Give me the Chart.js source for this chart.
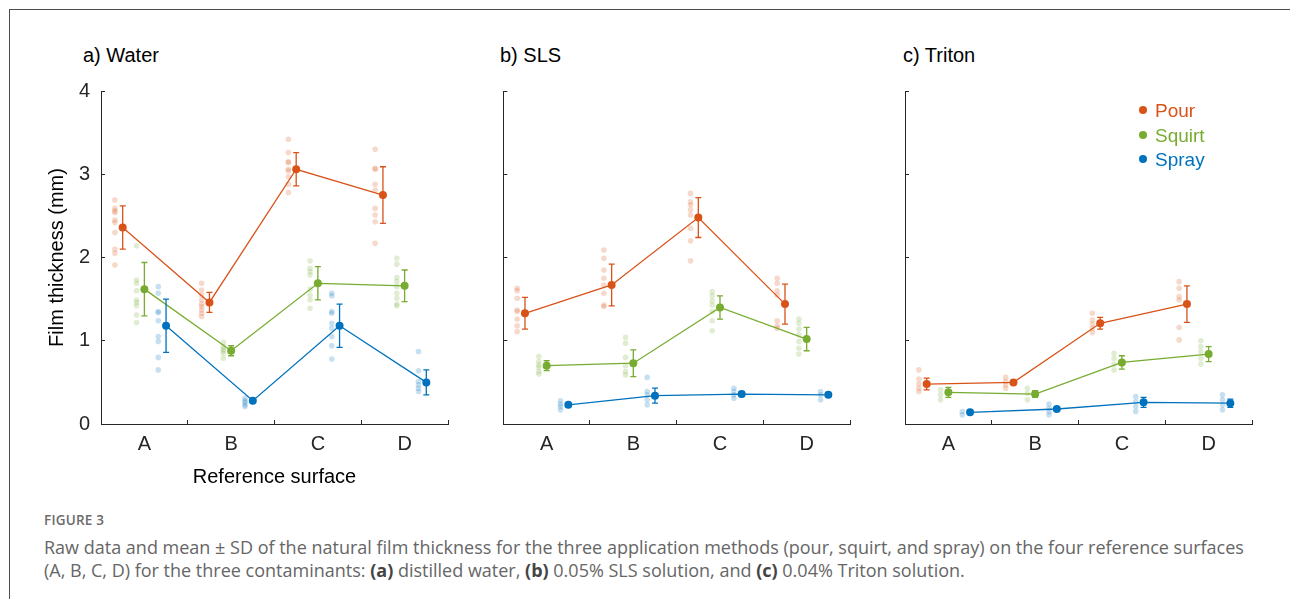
<!DOCTYPE html>
<html>
<head>
<meta charset="utf-8">
<script src="https://cdn.jsdelivr.net/npm/chart.js@4.4.0/dist/chart.umd.min.js"></script>
<style>
  body { margin: 0; width: 1290px; height: 599px; overflow: hidden; background: #fff; position: relative; font-family: "Liberation Sans", Arial, sans-serif; }
  .frame { position: absolute; left: 9px; top: 9px; width: 1400px; height: 700px; border-top: 1.5px solid #4d4d4d; border-left: 1.5px solid #4d4d4d; }
  canvas { position: absolute; top: 60px; }
  .ptitle { position: absolute; top: 43px; font-size: 20px; color: #000; line-height: 24px; }
  .legend { position: absolute; left: 1139px; top: 99px; font-size: 19px; line-height: 24.5px; }
  .legend div { white-space: nowrap; }
  .legend span { display: inline-block; width: 8px; height: 8px; border-radius: 50%; margin-right: 8px; vertical-align: 3px; }
  .fig { position: absolute; left: 44px; top: 511px; font-family: "Open Sans", sans-serif; font-size: 13.5px; font-weight: 600; color: #6b6b6b; letter-spacing: 0.2px; }
  .cap { position: absolute; left: 44px; top: 536px; font-family: "Open Sans", sans-serif; font-size: 18px; line-height: 23px; color: #666; white-space: nowrap; }
  .cap b { color: #444; font-weight: 700; }
</style>
</head>
<body>
<div class="frame"></div>
<div class="ptitle" style="left:83px">a) Water</div>
<div class="ptitle" style="left:500px">b) SLS</div>
<div class="ptitle" style="left:903px">c) Triton</div>
<canvas id="water" width="420" height="440" style="left:36px"></canvas>
<canvas id="sls" width="380" height="440" style="left:480px"></canvas>
<canvas id="triton" width="380" height="440" style="left:880px"></canvas>
<div class="legend">
  <div style="color:#D95319"><span style="background:#D95319"></span>Pour</div>
  <div style="color:#77AC30"><span style="background:#77AC30"></span>Squirt</div>
  <div style="color:#0072BD"><span style="background:#0072BD"></span>Spray</div>
</div>
<div class="fig">FIGURE 3</div>
<div class="cap">Raw data and mean ± SD of the natural film thickness for the three application methods (pour, squirt, and spray) on the four reference surfaces<br>(A, B, C, D) for the three contaminants: <b>(a)</b> distilled water, <b>(b)</b> 0.05% SLS solution, and <b>(c)</b> 0.04% Triton solution.</div>

<script>
const categories = ['A', 'B', 'C', 'D'];
const methods = ['Pour', 'Squirt', 'Spray'];
const yTicks = [0, 1, 2, 3, 4];

// a) Water
const waterPourMean = [2.36, 1.46, 3.06, 2.75];
const waterPourSD = [0.26, 0.12, 0.20, 0.34];
const waterPourRaw = [
  [2.69, 2.59, 2.56, 2.54, 2.45, 2.42, 2.30, 2.10, 2.05, 1.91],
  [1.69, 1.61, 1.55, 1.49, 1.44, 1.41, 1.37, 1.33, 1.29],
  [3.42, 3.26, 3.15, 3.14, 3.06, 3.04, 2.97, 2.88, 2.78],
  [3.30, 3.07, 3.06, 2.88, 2.81, 2.59, 2.51, 2.43, 2.17]
];
const waterSquirtMean = [1.62, 0.88, 1.69, 1.66];
const waterSquirtSD = [0.32, 0.06, 0.20, 0.19];
const waterSquirtRaw = [
  [2.14, 1.73, 1.69, 1.60, 1.49, 1.46, 1.42, 1.31, 1.22],
  [0.98, 0.93, 0.90, 0.88, 0.85, 0.79],
  [1.96, 1.87, 1.83, 1.79, 1.62, 1.55, 1.49, 1.39],
  [1.99, 1.92, 1.76, 1.71, 1.65, 1.57, 1.51, 1.44, 1.42]
];
const waterSprayMean = [1.18, 0.28, 1.18, 0.50];
const waterSpraySD = [0.32, 0.02, 0.26, 0.15];
const waterSprayRaw = [
  [1.65, 1.57, 1.35, 1.34, 1.24, 1.05, 0.99, 0.80, 0.65],
  [0.31, 0.28, 0.26, 0.23, 0.21],
  [1.57, 1.54, 1.35, 1.33, 1.21, 1.15, 1.05, 0.94, 0.78],
  [0.87, 0.64, 0.51, 0.47, 0.43, 0.39]
];

// b) SLS
const slsPourMean = [1.33, 1.67, 2.48, 1.44];
const slsPourSD = [0.19, 0.25, 0.24, 0.24];
const slsPourRaw = [
  [1.63, 1.60, 1.51, 1.37, 1.35, 1.26, 1.18, 1.11],
  [2.09, 1.99, 1.85, 1.75, 1.67, 1.57, 1.43, 1.41],
  [2.77, 2.67, 2.63, 2.57, 2.51, 2.35, 2.20, 1.96],
  [1.75, 1.69, 1.60, 1.55, 1.24, 1.18, 1.15]
];
const slsSquirtMean = [0.70, 0.73, 1.40, 1.02];
const slsSquirtSD = [0.06, 0.16, 0.14, 0.14];
const slsSquirtRaw = [
  [0.81, 0.75, 0.71, 0.68, 0.63, 0.60],
  [1.04, 0.97, 0.80, 0.70, 0.63, 0.59],
  [1.59, 1.54, 1.48, 1.43, 1.35, 1.24, 1.12],
  [1.26, 1.21, 1.14, 1.07, 0.99, 0.91, 0.84]
];
const slsSprayMean = [0.23, 0.34, 0.36, 0.35];
const slsSpraySD = [0.02, 0.09, 0.03, 0.02];
const slsSprayRaw = [
  [0.28, 0.24, 0.21, 0.17],
  [0.56, 0.39, 0.35, 0.29, 0.23],
  [0.43, 0.39, 0.35, 0.31],
  [0.39, 0.35, 0.29]
];

// c) Triton
const tritonPourMean = [0.48, 0.50, 1.21, 1.44];
const tritonPourSD = [0.07, 0.02, 0.07, 0.22];
const tritonPourRaw = [
  [0.65, 0.54, 0.48, 0.43, 0.39],
  [0.56, 0.51, 0.47, 0.43],
  [1.33, 1.25, 1.20, 1.15, 1.10],
  [1.71, 1.63, 1.53, 1.49, 1.16, 1.01]
];
const tritonSquirtMean = [0.38, 0.36, 0.74, 0.84];
const tritonSquirtSD = [0.06, 0.04, 0.08, 0.09];
const tritonSquirtRaw = [
  [0.41, 0.35, 0.29],
  [0.43, 0.37, 0.29],
  [0.85, 0.79, 0.72, 0.65],
  [1.00, 0.93, 0.87, 0.79, 0.72]
];
const tritonSprayMean = [0.14, 0.18, 0.26, 0.25];
const tritonSpraySD = [0.02, 0.02, 0.06, 0.05];
const tritonSprayRaw = [
  [0.15, 0.11],
  [0.24, 0.19, 0.15, 0.11],
  [0.33, 0.27, 0.21, 0.15],
  [0.35, 0.29, 0.23, 0.17]
];

const colors = { Pour: '217,83,25', Squirt: '119,172,48', Spray: '0,114,189' };
const meanOffset = { Pour: -0.25, Squirt: 0, Spray: 0.25 };
const rawOffset = { Pour: -0.34, Squirt: -0.09, Spray: 0.16 };
const axisColor = '#262626';
const font = { family: '"Liberation Sans", Arial, sans-serif', size: 20 };

// draws mean ± SD bars using the chart's own scales
const errorBars = {
  id: 'errorBars',
  afterDatasetsDraw(chart) {
    const ctx = chart.ctx;
    const ys = chart.scales.y;
    chart.data.datasets.forEach((ds, i) => {
      if (!ds.sd) return;
      const meta = chart.getDatasetMeta(i);
      ctx.save();
      ctx.strokeStyle = ds.borderColor;
      ctx.lineWidth = 1.3;
      meta.data.forEach((pt, j) => {
        const m = ds.data[j].y, s = ds.sd[j];
        const top = ys.getPixelForValue(m + s), bot = ys.getPixelForValue(m - s);
        ctx.beginPath();
        ctx.moveTo(pt.x, top); ctx.lineTo(pt.x, bot);
        ctx.moveTo(pt.x - 3, top); ctx.lineTo(pt.x + 3, top);
        ctx.moveTo(pt.x - 3, bot); ctx.lineTo(pt.x + 3, bot);
        ctx.stroke();
      });
      ctx.restore();
    });
  }
};

function makePanel(id, series, opt) {
  const datasets = [];
  methods.forEach(m => {
    const s = series[m];
    datasets.push({
      label: m,
      data: s.mean.map((v, i) => ({ x: i + meanOffset[m], y: v })),
      sd: s.sd,
      showLine: true,
      borderColor: 'rgb(' + colors[m] + ')',
      backgroundColor: 'rgb(' + colors[m] + ')',
      borderWidth: 1.3,
      pointRadius: 4,
      pointBorderWidth: 0,
      order: 0
    });
    datasets.push({
      label: m + ' raw',
      data: s.raw.flatMap((vals, i) => vals.map(v => ({ x: i + rawOffset[m], y: v }))),
      showLine: false,
      backgroundColor: 'rgba(' + colors[m] + ',0.22)',
      pointRadius: 2.8,
      pointBorderWidth: 0,
      order: 1
    });
  });

  new Chart(document.getElementById(id), {
    type: 'scatter',
    data: { datasets },
    options: {
      responsive: false,
      animation: false,
      layout: { padding: { top: 31, right: opt.padRight, bottom: 0, left: 0 } },
      plugins: { legend: { display: false }, tooltip: { enabled: false } },
      scales: {
        x: {
          type: 'linear', min: -0.5, max: 3.5,
          afterBuildTicks: s => { s.ticks = categories.map((c, i) => ({ value: i })); },
          afterFit: s => { s.height = 76; },
          ticks: { callback: v => categories[v], font, color: axisColor, padding: 12.5, autoSkip: false, maxRotation: 0 },
          grid: { offset: true, drawOnChartArea: false, tickLength: -4, color: axisColor, lineWidth: 1 },
          border: { color: axisColor, width: 1 },
          title: { display: opt.showLabels, text: 'Reference surface', font, color: '#000', padding: { top: 0, bottom: 11 } }
        },
        y: {
          min: 0, max: 4,
          afterBuildTicks: s => { s.ticks = yTicks.map(v => ({ value: v })); },
          afterFit: s => { s.width = opt.yWidth; },
          ticks: { display: opt.showLabels, font, color: axisColor, padding: 15 },
          grid: { drawOnChartArea: false, tickLength: -4, color: axisColor, lineWidth: 1 },
          border: { color: axisColor, width: 1 },
          title: { display: opt.showLabels, text: 'Film thickness (mm)', font, color: '#000', padding: { top: 9.5, bottom: 0 } }
        }
      }
    },
    plugins: [errorBars]
  });
}

makePanel('water', {
  Pour: { mean: waterPourMean, sd: waterPourSD, raw: waterPourRaw },
  Squirt: { mean: waterSquirtMean, sd: waterSquirtSD, raw: waterSquirtRaw },
  Spray: { mean: waterSprayMean, sd: waterSpraySD, raw: waterSprayRaw }
}, { showLabels: true, yWidth: 65, padRight: 8 });

makePanel('sls', {
  Pour: { mean: slsPourMean, sd: slsPourSD, raw: slsPourRaw },
  Squirt: { mean: slsSquirtMean, sd: slsSquirtSD, raw: slsSquirtRaw },
  Spray: { mean: slsSprayMean, sd: slsSpraySD, raw: slsSprayRaw }
}, { showLabels: false, yWidth: 23.3, padRight: 10 });

makePanel('triton', {
  Pour: { mean: tritonPourMean, sd: tritonPourSD, raw: tritonPourRaw },
  Squirt: { mean: tritonSquirtMean, sd: tritonSquirtSD, raw: tritonSquirtRaw },
  Spray: { mean: tritonSprayMean, sd: tritonSpraySD, raw: tritonSprayRaw }
}, { showLabels: false, yWidth: 25, padRight: 8 });
</script>
</body>
</html>
